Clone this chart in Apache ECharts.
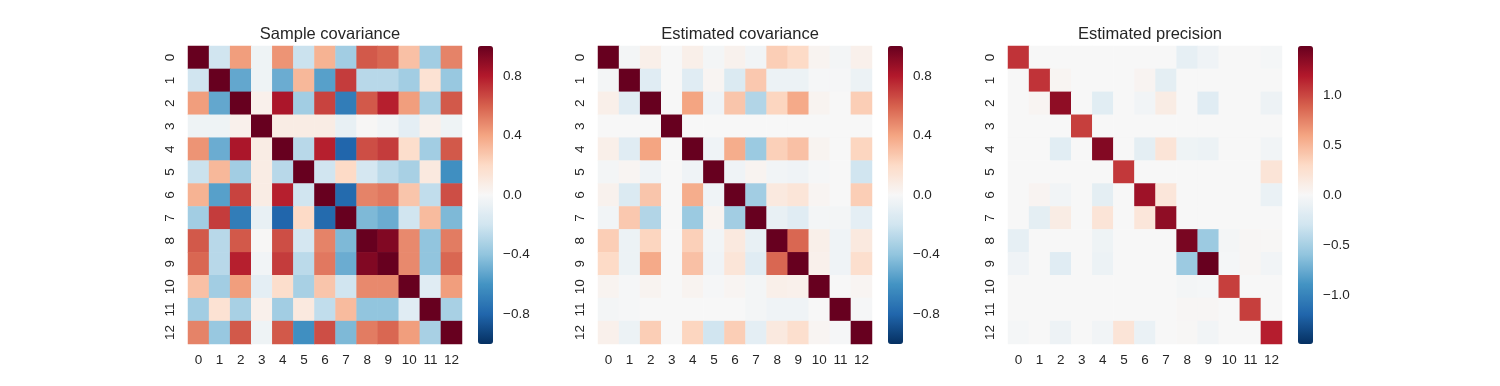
<!DOCTYPE html>
<html>
<head>
<meta charset="utf-8">
<script src="https://cdn.jsdelivr.net/npm/echarts@6/dist/echarts.min.js"></script>
<style>html,body{margin:0;padding:0;background:#fff}#c{width:1500px;height:386px}</style>
</head>
<body>
<div id="c"></div>
<script>
const labels = ['0','1','2','3','4','5','6','7','8','9','10','11','12'];
const titles = ['Sample covariance', 'Estimated covariance', 'Estimated precision'];

const sampleCov = [
  [1.00,-0.20, 0.42,-0.05, 0.45,-0.22, 0.35,-0.35, 0.62, 0.58, 0.30,-0.35, 0.50],
  [-0.20,1.00,-0.52,-0.05,-0.50, 0.33,-0.55, 0.70,-0.28,-0.28,-0.35, 0.15,-0.38],
  [0.42,-0.52, 1.00, 0.05, 0.82,-0.35, 0.68,-0.70, 0.62, 0.78, 0.42,-0.33, 0.62],
  [-0.05,-0.05,0.05, 1.00, 0.08, 0.08, 0.08,-0.08, 0.01,-0.03,-0.10, 0.05,-0.05],
  [0.45,-0.50, 0.82, 0.08, 1.00,-0.28, 0.78,-0.80, 0.65, 0.70, 0.18,-0.35, 0.62],
  [-0.22,0.33,-0.35, 0.08,-0.28, 1.00,-0.20, 0.20,-0.18,-0.27,-0.33, 0.10,-0.62],
  [0.35,-0.55, 0.68, 0.08, 0.78,-0.20, 1.00,-0.78, 0.50, 0.53, 0.28,-0.25, 0.65],
  [-0.35,0.70,-0.70,-0.08,-0.80, 0.20,-0.78, 1.00,-0.45,-0.50,-0.20, 0.32,-0.45],
  [0.62,-0.28, 0.62, 0.01, 0.65,-0.18, 0.50,-0.45, 1.00, 0.93, 0.48,-0.40, 0.52],
  [0.58,-0.28, 0.78,-0.03, 0.70,-0.27, 0.53,-0.50, 0.93, 1.00, 0.48,-0.40, 0.58],
  [0.30,-0.35, 0.42,-0.10, 0.18,-0.33, 0.28,-0.20, 0.48, 0.48, 1.00,-0.12, 0.42],
  [-0.35,0.15,-0.33, 0.05,-0.35, 0.10,-0.25, 0.32,-0.40,-0.40,-0.12, 1.00,-0.33],
  [0.50,-0.38, 0.62,-0.05, 0.62,-0.62, 0.65,-0.45, 0.52, 0.58, 0.42,-0.33, 1.00]
];

const estCov = [
  [1.00,-0.02, 0.06, 0.00, 0.06,-0.02, 0.04,-0.03, 0.25, 0.20, 0.03,-0.02, 0.05],
  [-0.02,1.00,-0.12, 0.00,-0.12, 0.02,-0.15, 0.27,-0.06,-0.06,-0.01,-0.01,-0.06],
  [0.06,-0.12, 1.00, 0.00, 0.40,-0.04, 0.28,-0.30, 0.22, 0.38, 0.03, 0.00, 0.25],
  [0.00, 0.00, 0.00, 1.00, 0.00, 0.00, 0.00, 0.00, 0.00, 0.00, 0.00, 0.00, 0.00],
  [0.06,-0.12, 0.40, 0.00, 1.00,-0.04, 0.37,-0.37, 0.24, 0.30, 0.03, 0.00, 0.22],
  [-0.02,0.02,-0.04, 0.00,-0.04, 1.00,-0.04, 0.03,-0.03,-0.04,-0.01, 0.00,-0.20],
  [0.04,-0.15, 0.28, 0.00, 0.37,-0.04, 1.00,-0.35, 0.10, 0.13, 0.02, 0.00, 0.25],
  [-0.03,0.27,-0.30, 0.00,-0.37, 0.03,-0.35, 1.00,-0.08,-0.12,-0.02,-0.02,-0.10],
  [0.25,-0.06, 0.22, 0.00, 0.24,-0.03, 0.10,-0.08, 1.00, 0.58, 0.06,-0.04, 0.10],
  [0.20,-0.06, 0.38, 0.00, 0.30,-0.04, 0.13,-0.12, 0.58, 1.00, 0.05,-0.04, 0.17],
  [0.03,-0.01, 0.03, 0.00, 0.03,-0.01, 0.02,-0.02, 0.06, 0.05, 1.00, 0.00, 0.02],
  [-0.02,-0.01,0.00, 0.00, 0.00, 0.00, 0.00,-0.02,-0.04,-0.04, 0.00, 1.00,-0.01],
  [0.05,-0.06, 0.25, 0.00, 0.22,-0.20, 0.25,-0.10, 0.10, 0.17, 0.02,-0.01, 1.00]
];

const estPrec = [
  [1.08, 0.00, 0.00, 0.00, 0.00, 0.00, 0.00, 0.00,-0.13,-0.06, 0.00, 0.00,-0.02],
  [0.00, 1.08, 0.03, 0.00, 0.00, 0.00, 0.04,-0.15, 0.00, 0.00, 0.00, 0.00, 0.00],
  [0.00, 0.03, 1.33, 0.00,-0.17, 0.00,-0.05, 0.12, 0.00,-0.18, 0.00, 0.00,-0.08],
  [0.00, 0.00, 0.00, 1.03, 0.00, 0.00, 0.00, 0.00, 0.00, 0.00, 0.00, 0.00, 0.00],
  [0.00, 0.00,-0.17, 0.00, 1.38, 0.00,-0.15, 0.20,-0.07,-0.09, 0.00, 0.00,-0.05],
  [0.00, 0.00, 0.00, 0.00, 0.00, 1.06, 0.00, 0.00, 0.00, 0.00, 0.00, 0.00, 0.20],
  [0.00, 0.04,-0.05, 0.00,-0.15, 0.00, 1.27, 0.18, 0.00, 0.00, 0.00, 0.00,-0.10],
  [0.00,-0.15, 0.12, 0.00, 0.20, 0.00, 0.18, 1.33, 0.00, 0.00, 0.00, 0.00, 0.00],
  [-0.13,0.00, 0.00, 0.00,-0.07, 0.00, 0.00, 0.00, 1.42,-0.55,-0.03, 0.02, 0.01],
  [-0.06,0.00,-0.18, 0.00,-0.09, 0.00, 0.00, 0.00,-0.55, 1.49,-0.02, 0.02,-0.05],
  [0.00, 0.00, 0.00, 0.00, 0.00, 0.00, 0.00, 0.00,-0.03,-0.02, 1.03, 0.00, 0.00],
  [0.00, 0.00, 0.00, 0.00, 0.00, 0.00, 0.00, 0.00, 0.02, 0.02, 0.00, 1.03, 0.00],
  [-0.02,0.00,-0.08, 0.00,-0.05, 0.20,-0.10, 0.00, 0.01,-0.05, 0.00, 0.00, 1.17]
];

const cbTicks = [
  [-0.8, -0.4, 0, 0.4, 0.8],
  [-0.8, -0.4, 0, 0.4, 0.8],
  [-1.0, -0.5, 0, 0.5, 1.0]
];

const matrices = [sampleCov, estCov, estPrec];
const RdBu_r = ['#053061','#2166ac','#4393c3','#92c5de','#d1e5f0','#f7f7f7','#fddbc7','#f4a582','#d6604d','#b2182b','#67001f'];
const FONT = '"Liberation Sans", Arial, sans-serif';
const TXT = '#262626';

const hmLeft = [188, 598, 1008];
const cbLeft = [478, 888, 1298];
const TOP = 46, H = 298, W = 274, CBW = 15;

const grid = [], xAxis = [], yAxis = [], series = [], visualMap = [], title = [];
matrices.forEach((m, k) => {
  const data = [];
  let vmax = 0;
  m.forEach((row, i) => row.forEach((v, j) => { data.push([j, i, v]); vmax = Math.max(vmax, Math.abs(v)); }));
  grid.push({left: hmLeft[k], top: TOP, width: W, height: H});
  xAxis.push({type: 'category', gridIndex: k, data: labels,
    axisLine: {show: false}, axisTick: {show: false}, splitLine: {show: false},
    axisLabel: {color: TXT, fontFamily: FONT, fontSize: 13.5, margin: 9, interval: 0}});
  yAxis.push({type: 'category', gridIndex: k, data: labels, inverse: true,
    axisLine: {show: false}, axisTick: {show: false}, splitLine: {show: false},
    axisLabel: {color: TXT, fontFamily: FONT, fontSize: 13.5, margin: 11, rotate: 90, interval: 0}});
  series.push({type: 'heatmap', xAxisIndex: k, yAxisIndex: k, data: data,
    itemStyle: {borderWidth: 0}, emphasis: {disabled: true}, progressive: 0});
  visualMap.push({type: 'continuous', seriesIndex: k, min: -vmax, max: vmax,
    calculable: false, realtime: false, left: cbLeft[k], top: TOP, itemWidth: CBW, itemHeight: H,
    padding: 0, text: null, showLabel: false, hoverLink: false,
    inRange: {color: RdBu_r}});
  grid.push({left: cbLeft[k], top: TOP, width: CBW, height: H});
  xAxis.push({type: 'value', gridIndex: 3 + k, show: false, min: 0, max: 1});
  yAxis.push({type: 'value', gridIndex: 3 + k, position: 'right', min: -vmax, max: vmax,
    axisLine: {show: false}, axisTick: {show: false}, splitLine: {show: false},
    axisLabel: {color: TXT, fontFamily: FONT, fontSize: 13.5, margin: 10,
      customValues: cbTicks[k],
      formatter: v => v.toFixed(1).replace('-', '\u2212')}});
  title.push({text: titles[k], left: hmLeft[k] + W / 2, top: 21, textAlign: 'center',
    textStyle: {color: TXT, fontFamily: FONT, fontSize: 16.5, fontWeight: 'normal'}});
});

const g = [grid[0], grid[2], grid[4], grid[1], grid[3], grid[5]];
const xa = [xAxis[0], xAxis[2], xAxis[4], xAxis[1], xAxis[3], xAxis[5]];
const ya = [yAxis[0], yAxis[2], yAxis[4], yAxis[1], yAxis[3], yAxis[5]];

const chart = echarts.init(document.getElementById('c'), null, {renderer: 'canvas'});
chart.setOption({
  animation: false,
  backgroundColor: '#ffffff',
  title: title,
  grid: g, xAxis: xa, yAxis: ya,
  visualMap: visualMap,
  series: series
});
</script>
</body>
</html>
